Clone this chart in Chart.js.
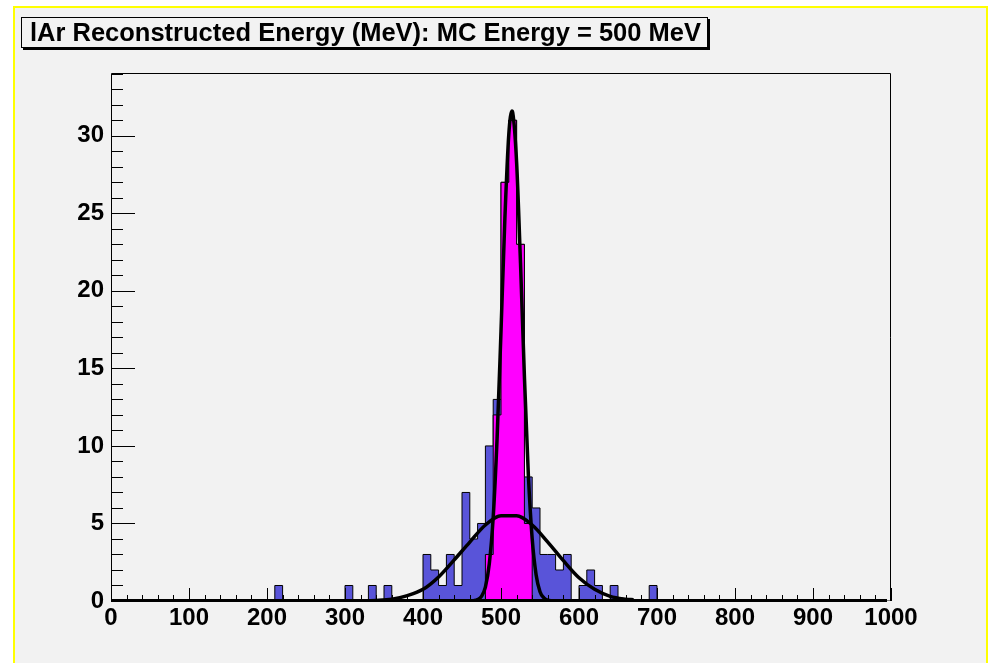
<!DOCTYPE html>
<html>
<head>
<meta charset="utf-8">
<title>lAr Reconstructed Energy</title>
<script src="https://cdn.jsdelivr.net/npm/chart.js@4.4.1/dist/chart.umd.min.js"></script>
<style>
  html, body { margin: 0; padding: 0; background: #fff; overflow: hidden; }
  #wrap { position: relative; width: 993px; height: 663px; overflow: hidden; }
  #pad { position: absolute; left: 13px; top: 6px; width: 971px; height: 700px;
         background: #f2f2f2; border: 2px solid #ffff00; border-bottom: none; }
  #chart { position: absolute; left: 0; top: 0; }
  #title { position: absolute; left: 21px; top: 17px; width: 687px; height: 31px; box-sizing: border-box;
           border: 1px solid #000; box-shadow: 2px 2px 0 #000; background: #f2f2f2;
           font: bold 25.5px "Liberation Sans", Arial, sans-serif; line-height: 29px; padding-left: 8px;
           white-space: nowrap; color: #000; }
</style>
</head>
<body>
<div id="wrap">
  <div id="pad"></div>
  <canvas id="chart" width="993" height="663"></canvas>
  <div id="title">lAr Reconstructed Energy (MeV): MC Energy = 500 MeV</div>
</div>
<script>
// ── Data ─────────────────────────────────────────────────────
// all events, 10 MeV bins from 0 to 1000 MeV
const BIN_WIDTH = 10;
const blueCounts = [
  0, 0, 0, 0, 0, 0, 0, 0, 0, 0,     //   0 - 100
  0, 0, 0, 0, 0, 0, 0, 0, 0, 0,     // 100 - 200
  0, 1, 0, 0, 0, 0, 0, 0, 0, 0,     // 200 - 300
  1, 0, 0, 1, 0, 1, 0, 0, 0, 0,     // 300 - 400
  3, 2, 1, 3, 1, 7, 4, 5, 10, 13,   // 400 - 500
  27, 31, 23, 8, 6, 3, 3, 2, 3, 0,  // 500 - 600
  1, 2, 1, 0, 1, 0, 0, 0, 0, 1,     // 600 - 700
  0, 0, 0, 0, 0, 0, 0, 0, 0, 0,     // 700 - 800
  0, 0, 0, 0, 0, 0, 0, 0, 0, 0,     // 800 - 900
  0, 0, 0, 0, 0, 0, 0, 0, 0, 0      // 900 - 1000
];

// selected events, same binning, only the non-empty bins
const magentaStart = 480;
const magentaCounts = [3, 12, 27, 31, 23, 5];

// narrow fit (to the magenta histogram)
const narrowX = [460, 465, 470, 475, 480, 485, 490, 495, 500, 505, 510, 514, 515, 520, 525, 530, 535, 540, 545, 550, 555, 560, 565, 570];
const narrowY = [0, 0.02, 0.09, 0.3, 0.9, 2.4, 5.4, 10.5, 17.4, 24.7, 30.1, 31.6, 31.5, 28.3, 21.8, 14.5, 8.2, 4.0, 1.7, 0.6, 0.2, 0.05, 0.01, 0];

// wide fit (to the blue histogram)
const wideX = [0, 300, 320, 340, 360, 380, 400, 420, 440, 460, 480, 500, 520, 540, 560, 580, 600, 620, 640, 660, 670];
const wideY = [0, 0, 0.01, 0.04, 0.12, 0.35, 0.75, 1.55, 2.65, 3.8, 4.9, 5.5, 5.5, 4.9, 3.8, 2.6, 1.5, 0.75, 0.3, 0.12, 0.08];

const xTickLabels = ["0", "100", "200", "300", "400", "500", "600", "700", "800", "900", "1000"];
const yTickLabels = ["0", "5", "10", "15", "20", "25", "30"];

/* ── Helpers ───────────────────────────────────────────────*/
// step points: one per lower bin edge, plus closing point at the last upper edge
function histPoints(start, counts) {
  const pts = [{ x: start, y: 0 }];
  counts.forEach((c, i) => pts.push({ x: start + i * BIN_WIDTH, y: c }));
  pts.push({ x: start + counts.length * BIN_WIDTH, y: 0 });
  return pts;
}

const toPoints = (xs, ys) => xs.map((x, i) => ({ x, y: ys[i] }));

const FONT = "'Liberation Sans', Arial, Helvetica, sans-serif";

/* ── ROOT-style frame and inward ticks ─────────────────────*/
const rootFrame = {
  id: "rootFrame",
  afterDraw(chart) {
    const { ctx, chartArea: a, scales: { x, y } } = chart;
    ctx.save();
    ctx.strokeStyle = "#000";
    ctx.lineWidth = 1;
    ctx.beginPath();
    ctx.moveTo(a.left + 0.5, a.bottom);
    ctx.lineTo(a.left + 0.5, a.top + 0.5);
    ctx.lineTo(a.right - 0.5, a.top + 0.5);
    ctx.lineTo(a.right - 0.5, a.bottom);

    for (let v = 0; v <= y.max; v++) {
      const py = Math.round(y.getPixelForValue(v)) + 0.5;
      ctx.moveTo(a.left, py);
      ctx.lineTo(a.left + (v % 5 === 0 ? 24 : 12), py);
    }
    for (let v = 0; v <= x.max; v += 20) {
      const px = Math.round(x.getPixelForValue(v)) + 0.5;
      ctx.moveTo(px, a.bottom);
      ctx.lineTo(px, a.bottom - (v % 100 === 0 ? 13 : 6));
    }
    ctx.stroke();

    ctx.lineWidth = 3;
    ctx.beginPath();
    ctx.moveTo(a.left, a.bottom - 0.5);
    ctx.lineTo(a.right - 4, a.bottom - 0.5);
    ctx.stroke();
    ctx.restore();
  }
};

/* ── Chart ─────────────────────────────────────────────────*/
new Chart(document.getElementById("chart"), {
  type: "line",
  data: {
    datasets: [
      { label: "narrow fit", data: toPoints(narrowX, narrowY), borderColor: "#000", borderWidth: 3.5,
        pointRadius: 0, cubicInterpolationMode: "monotone", fill: false, order: 0 },
      { label: "wide fit", data: toPoints(wideX, wideY), borderColor: "#000", borderWidth: 3.5,
        pointRadius: 0, cubicInterpolationMode: "monotone", fill: false, order: 0 },
      { label: "selected", data: histPoints(magentaStart, magentaCounts), stepped: "before",
        borderColor: "#000", borderWidth: 1, backgroundColor: "#ff00ff", fill: "origin", pointRadius: 0, order: 1 },
      { label: "all", data: histPoints(0, blueCounts), stepped: "before",
        borderColor: "#000", borderWidth: 1, backgroundColor: "#5954d9", fill: "origin", pointRadius: 0, order: 2 }
    ]
  },
  options: {
    responsive: false,
    animation: false,
    devicePixelRatio: 1,
    layout: { padding: { left: 0, top: 73, right: 102, bottom: 0 } },
    plugins: { legend: { display: false }, tooltip: { enabled: false }, title: { display: false } },
    scales: {
      x: {
        type: "linear", min: 0, max: 1000,
        grid: { display: false, drawTicks: false, tickLength: 0 },
        border: { display: false },
        ticks: {
          stepSize: 100, autoSkip: false, maxRotation: 0, padding: 3, color: "#000",
          font: { family: FONT, size: 24, weight: "bold" },
          callback: (v) => xTickLabels[Math.round(v / 100)] ?? ""
        },
        afterFit: (s) => { s.height = 62; }
      },
      y: {
        min: 0, max: 34.05,
        grid: { display: false, drawTicks: false, tickLength: 0 },
        border: { display: false },
        ticks: {
          stepSize: 5, includeBounds: false, padding: 7, color: "#000",
          font: { family: FONT, size: 24, weight: "bold" },
          callback: (v) => yTickLabels[Math.round(v / 5)] ?? ""
        },
        afterFit: (s) => { s.width = 111; }
      }
    }
  },
  plugins: [rootFrame]
});
</script>
</body>
</html>
